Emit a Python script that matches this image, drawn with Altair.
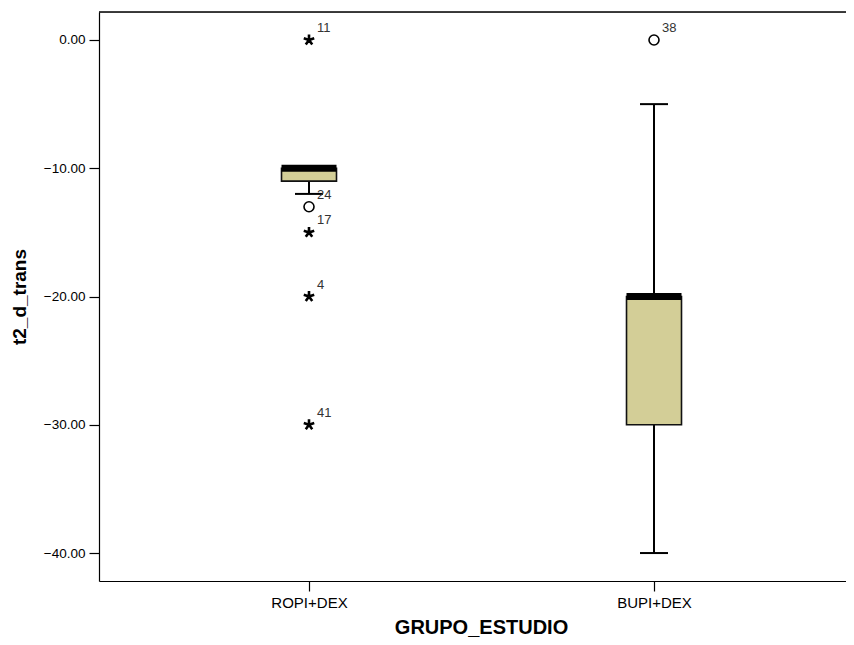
import altair as alt
import pandas as pd

# ---- data ----
groups = ["ROPI+DEX", "BUPI+DEX"]
group_pos = [1, 2]
q1 = [-11, -30]
median = [-10, -20]
q3 = [-10, -20]
whisk_lo = [-12, -40]
whisk_hi = [-10, -5]

out_group = ["ROPI+DEX", "ROPI+DEX", "ROPI+DEX", "ROPI+DEX", "ROPI+DEX", "BUPI+DEX"]
out_value = [0, -13, -15, -20, -30, 0]
out_case = ["11", "24", "17", "4", "41", "38"]
out_kind = ["extreme", "mild", "extreme", "extreme", "extreme", "mild"]

y_ticks = [0, -10, -20, -30, -40]

# ---- tables ----
BOX_HALF = 0.0797
CAP_HALF = 0.0406
pos_of = dict(zip(groups, group_pos))
boxes = pd.DataFrame({
    "group": groups, "pos": group_pos, "q1": q1, "median": median, "q3": q3,
    "lo": whisk_lo, "hi": whisk_hi,
})
boxes["bx0"] = boxes["pos"] - BOX_HALF
boxes["bx1"] = boxes["pos"] + BOX_HALF
boxes["cx0"] = boxes["pos"] - CAP_HALF
boxes["cx1"] = boxes["pos"] + CAP_HALF

outl = pd.DataFrame({"group": out_group, "value": out_value, "case": out_case, "kind": out_kind})
outl["pos"] = outl["group"].map(pos_of)

W, H = 747, 569
xscale = alt.Scale(domain=[0.3913, 2.5565], nice=False, zero=False)
yscale = alt.Scale(domain=[-42.18, 2.183], nice=False, zero=False)

FONT = "Liberation Sans"

xax = alt.Axis(values=group_pos, labelExpr="datum.value == 1 ? 'ROPI+DEX' : 'BUPI+DEX'",
               title="GRUPO_ESTUDIO", grid=False, tickSize=10, labelPadding=4,
               labelFontSize=15, labelColor="#000", labelFont=FONT,
               titleFontSize=20, titleFont=FONT, titleFontWeight="bold", titleColor="#000",
               titleX=382, titleY=52, titleBaseline="alphabetic", titleAlign="center",
               domainColor="#000", tickColor="#000", domainWidth=1.2, tickWidth=1.2)
yax = alt.Axis(values=y_ticks, format=".2f", title="t2_d_trans", grid=False, tickSize=10,
               labelPadding=4, labelFontSize=13.5, labelColor="#000", labelFont=FONT,
               titleFontSize=19, titleFont=FONT, titleFontWeight="bold", titleColor="#000",
               titleAngle=270, titleX=-80, titleY=H / 2, titleAlign="center", titleBaseline="middle",
               domainColor="#000", tickColor="#000", domainWidth=1.2, tickWidth=1.2)

base_b = alt.Chart(boxes)

whisk_up = base_b.mark_rule(color="#000", strokeWidth=2).encode(
    x=alt.X("pos:Q", scale=xscale, axis=xax), y=alt.Y("q3:Q", scale=yscale, axis=yax), y2="hi:Q")
whisk_dn = base_b.mark_rule(color="#000", strokeWidth=2).encode(
    x="pos:Q", y="q1:Q", y2="lo:Q")
box = base_b.mark_rect(fill="#D3CE97", stroke="#111", strokeWidth=1.6).encode(
    x="bx0:Q", x2="bx1:Q", y="q1:Q", y2="q3:Q")
med = base_b.mark_rule(color="#000", strokeWidth=7, strokeCap="butt").encode(
    x="bx0:Q", x2="bx1:Q", y="median:Q")
cap_up = base_b.mark_rule(color="#000", strokeWidth=2).encode(
    x="cx0:Q", x2="cx1:Q", y="hi:Q")
cap_dn = base_b.mark_rule(color="#000", strokeWidth=2).encode(
    x="cx0:Q", x2="cx1:Q", y="lo:Q")

base_o = alt.Chart(outl)
circles = base_o.transform_filter(alt.datum.kind == "mild").mark_point(
    shape="circle", filled=False, stroke="#000", strokeWidth=1.6, size=100, opacity=1).encode(
    x="pos:Q", y="value:Q")
STAR = "M0,0L0,-1M0,0L0.951,-0.309M0,0L0.588,0.809M0,0L-0.588,0.809M0,0L-0.951,-0.309"
stars = base_o.transform_filter(alt.datum.kind == "extreme").mark_point(
    shape=STAR, filled=False, stroke="#000", strokeWidth=2.6, size=121, opacity=1,
    strokeCap="butt").encode(x="pos:Q", y="value:Q")
labels = base_o.mark_text(align="left", baseline="alphabetic", dx=8, dy=-8,
                          fontSize=13, font=FONT, color="#333").encode(
    x="pos:Q", y="value:Q", text="case:N")

top_border = alt.Chart(boxes).mark_rule(color="#000", strokeWidth=1.2).encode(
    x=alt.value(0), x2=alt.value(W), y=alt.value(0))

chart = alt.layer(whisk_up, whisk_dn, box, med, cap_up, cap_dn, circles, stars, labels, top_border).properties(
    width=W, height=H,
    autosize=alt.AutoSizeParams(type="none"),
    padding={"left": 91, "top": 4, "right": 0, "bottom": 56},
).configure_view(fill="#F0F0F0", stroke=None).configure(background="#ffffff")

chart.save("out.html", embed_options={"renderer": "svg", "actions": False})
